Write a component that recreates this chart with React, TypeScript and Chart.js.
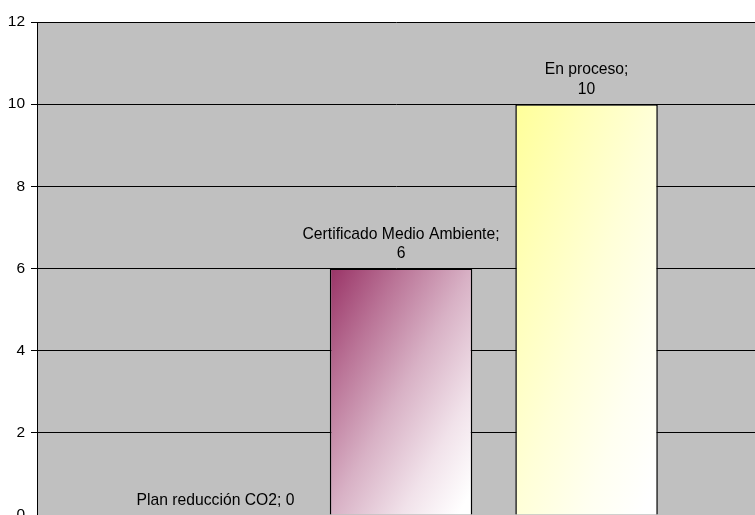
import React, { useEffect, useRef } from "react";
import { Chart, registerables } from "chart.js";

Chart.register(...registerables);

const categories = ["Plan reducción CO2", "Certificado Medio Ambiente", "En proceso"];
const values = [0, 6, 10];
const wrapLabel = [false, true, true];
const barColors = ["#9999FF", "#993366", "#FFFF99"];
const yTicks = [0, 2, 4, 6, 8, 10, 12];

const FONT = '"Liberation Sans", Arial, sans-serif';
const BAR_PCT = 0.768;
// [position along gradient, share of white]
const GRADIENT_STOPS: [number, number][] = [
  [0, 0],
  [0.25, 0.32],
  [0.5, 0.62],
  [0.75, 0.86],
  [0.95, 1],
  [1, 1],
];

function mixWhite(hex: string, f: number) {
  const n = parseInt(hex.slice(1), 16);
  const r = (n >> 16) & 255, g = (n >> 8) & 255, b = n & 255;
  const m = (c: number) => Math.round(c + (255 - c) * f);
  return `rgb(${m(r)},${m(g)},${m(b)})`;
}

function gradientFor(ctx: any) {
  const chart = ctx.chart;
  const i = ctx.dataIndex;
  const base = barColors[i] ?? "#999999";
  if (!chart.chartArea || !chart.scales || !chart.scales.x || !chart.scales.y || i === undefined) return base;
  const xs = chart.scales.x;
  const ys = chart.scales.y;
  const cx = xs.getPixelForValue(i + 1);
  const step = Math.abs(xs.getPixelForValue(2) - xs.getPixelForValue(1));
  const w = step * BAR_PCT;
  const top = ys.getPixelForValue(values[i]);
  const bottom = ys.getPixelForValue(0);
  const h = Math.max(bottom - top, 1);
  const L = cx - w / 2;
  const c = 2 / (1 / (w * w) + 1 / (h * h));
  const g = chart.ctx.createLinearGradient(L, top, L + c / w, top + c / h);
  GRADIENT_STOPS.forEach(([p, f]) => g.addColorStop(p, mixWhite(base, f)));
  return g;
}

const bgPlugin = {
  id: "plotBg",
  beforeDraw(chart: any) {
    const { ctx, chartArea } = chart;
    if (!chartArea) return;
    ctx.save();
    ctx.fillStyle = "#C0C0C0";
    ctx.fillRect(chartArea.left, chartArea.top, chartArea.right - chartArea.left, chartArea.bottom - chartArea.top);
    ctx.restore();
  },
};

const labelPlugin = {
  id: "barLabels",
  afterDatasetsDraw(chart: any) {
    const { ctx } = chart;
    const meta = chart.getDatasetMeta(0);
    ctx.save();
    ctx.font = `15.7px ${FONT}`;
    ctx.fillStyle = "#000000";
    ctx.textAlign = "center";
    ctx.textBaseline = "alphabetic";
    meta.data.forEach((el: any, i: number) => {
      const lines = wrapLabel[i]
        ? [`${categories[i]};`, `${values[i]}`]
        : [`${categories[i]}; ${values[i]}`];
      const yLast = el.y - 10.5;
      lines.forEach((ln, k) => {
        const y = yLast - (lines.length - 1 - k) * 19.5;
        ctx.fillText(ln, el.x, y);
      });
    });
    ctx.restore();
  },
};

export default function App() {
  const ref = useRef<HTMLCanvasElement | null>(null);
  useEffect(() => {
    if (!ref.current) return;
    const chart = new Chart(ref.current, {
      type: "bar",
      data: {
        datasets: [
          {
            data: values.map((v, i) => ({ x: i + 1, y: v })),
            backgroundColor: gradientFor as any,
            borderColor: "#000000",
            borderWidth: 1.5,
            barPercentage: BAR_PCT,
            categoryPercentage: 1,
          },
        ],
      },
      options: {
        responsive: false,
        animation: false,
        events: [],
        layout: { padding: { top: 22, bottom: 25, left: 0, right: 0 } },
        plugins: { legend: { display: false }, tooltip: { enabled: false } },
        scales: {
          x: {
            type: "linear",
            display: false,
            offset: false,
            min: 0.0377,
            max: 3.908,
            afterBuildTicks: (scale: any) => {
              scale.ticks = values.map((_, i) => ({ value: i + 1 }));
            },
          },
          y: {
            min: 0,
            max: 12,
            afterBuildTicks: (scale: any) => {
              scale.ticks = yTicks.map((v) => ({ value: v }));
            },
            afterFit: (scale: any) => {
              scale.width = 37;
            },
            ticks: {
              color: "#000000",
              font: { family: FONT, size: 15.5 },
              padding: 6,
            },
            grid: {
              color: "#000000",
              lineWidth: 1,
              tickLength: 6,
              tickColor: "#000000",
            },
            border: { display: true, color: "#000000", width: 1 },
          },
        },
      },
      plugins: [bgPlugin, labelPlugin],
    });
    return () => chart.destroy();
  }, []);
  return (
    <div style={{ position: "absolute", left: 0, top: 0, width: 755, height: 515, overflow: "hidden", background: "#FFFFFF" }}>
      <canvas ref={ref} width={755} height={540} style={{ display: "block" }} />
    </div>
  );
}
